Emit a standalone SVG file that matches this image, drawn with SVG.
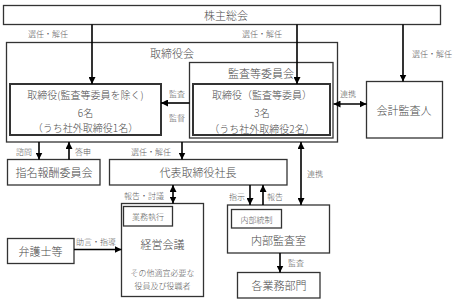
<svg xmlns="http://www.w3.org/2000/svg" width="456" height="303" viewBox="0 0 456 303">
<defs>
<style>
.box{fill:#fff;stroke:#333;stroke-width:1.3}
.thick{fill:#fff;stroke:#333;stroke-width:2}
.t{font-family:"Noto Sans CJK JP","Noto Sans CJK SC",sans-serif;font-size:11px;font-weight:300;fill:#4a4a4a;text-anchor:middle;dominant-baseline:central}
.m{font-size:10px}
.s{font-family:"Noto Sans CJK JP","Noto Sans CJK SC",sans-serif;font-size:8px;font-weight:300;fill:#5a5a5a;text-anchor:middle;dominant-baseline:central}
.c{stroke:#000;stroke-width:1.6;fill:none}
</style>
<marker id="ah" viewBox="0 0 8 8" refX="8" refY="4" markerWidth="7" markerHeight="7" markerUnits="userSpaceOnUse" orient="auto-start-reverse">
<path d="M0,0 L8,4 L0,8 z" fill="#000"/>
</marker>
</defs>
<rect width="456" height="303" fill="#fff"/>

<g id="shareholders">
<rect class="box" x="3.5" y="5.5" width="437" height="19"/>
<text class="t" x="226" y="14.5">株主総会</text>
</g>

<g id="board">
<rect class="box" x="6.5" y="42.5" width="331" height="99.5"/>
<text class="t" x="172" y="53">取締役会</text>
</g>

<g id="audit-committee">
<rect class="box" x="189.5" y="62.5" width="143.5" height="75.5"/>
<text class="t" x="261" y="73">監査等委員会</text>
</g>

<g id="directors">
<rect class="thick" x="10" y="84" width="151" height="51"/>
<text class="t m" x="85.5" y="94">取締役(監査等委員を除く)</text>
<text class="t m" x="85.5" y="112">6名</text>
<text class="t m" x="85.5" y="127.5">（うち社外取締役1名）</text>
</g>

<g id="audit-directors">
<rect class="thick" x="193" y="84" width="137" height="51"/>
<text class="t m" x="262" y="94">取締役（監査等委員）</text>
<text class="t m" x="262" y="112">3名</text>
<text class="t m" x="262" y="128">（うち社外取締役2名）</text>
</g>

<g id="accounting-auditor">
<rect class="box" x="366.5" y="81.5" width="76" height="56.5"/>
<text class="t" x="404" y="110">会計監査人</text>
</g>

<g id="nomination">
<rect class="box" x="7.5" y="159.5" width="92.5" height="25.5"/>
<text class="t" x="54" y="172">指名報酬委員会</text>
</g>

<g id="president">
<rect class="box" x="109.5" y="159.5" width="177.5" height="25.5"/>
<text class="t" x="198" y="172">代表取締役社長</text>
</g>

<g id="management-meeting">
<rect class="box" x="121.5" y="203.5" width="82" height="93"/>
<rect class="box" x="123.5" y="206.5" width="49" height="19.5"/>
<text class="s" x="148" y="216.5">業務執行</text>
<text class="t" x="162.5" y="244">経営会議</text>
<text class="s" x="162.5" y="272.5">その他適宜必要な</text>
<text class="s" x="162.5" y="285">役員及び役職者</text>
</g>

<g id="lawyers">
<rect class="box" x="7.5" y="238.5" width="66.5" height="25"/>
<text class="t" x="40.5" y="251">弁護士等</text>
</g>

<g id="internal-audit">
<rect class="box" x="227.5" y="205" width="102" height="48"/>
<rect class="box" x="231.5" y="209.5" width="50" height="18.5"/>
<text class="s" x="256.5" y="219">内部統制</text>
<text class="t" x="278.5" y="240">内部監査室</text>
</g>

<g id="departments">
<rect class="box" x="237.5" y="272.5" width="82.5" height="25.5"/>
<text class="t" x="279" y="285">各業務部門</text>
</g>

<g id="connectors">
<line class="c" x1="92" y1="24.5" x2="92" y2="84" marker-end="url(#ah)"/>
<line class="c" x1="297" y1="24.5" x2="297" y2="84" marker-end="url(#ah)"/>
<line class="c" x1="403" y1="24.5" x2="403" y2="81.5" marker-end="url(#ah)"/>
<line class="c" x1="189.5" y1="103" x2="161" y2="103" marker-end="url(#ah)"/>
<line class="c" x1="333.5" y1="104" x2="366.5" y2="104" marker-start="url(#ah)" marker-end="url(#ah)"/>
<line class="c" x1="39" y1="142" x2="39" y2="159.5" marker-end="url(#ah)"/>
<line class="c" x1="69" y1="159.5" x2="69" y2="142" marker-end="url(#ah)"/>
<line class="c" x1="182" y1="142" x2="182" y2="159.5" marker-end="url(#ah)"/>
<line class="c" x1="301" y1="142" x2="301" y2="205" marker-start="url(#ah)" marker-end="url(#ah)"/>
<line class="c" x1="173" y1="185" x2="173" y2="203.5" marker-start="url(#ah)" marker-end="url(#ah)"/>
<line class="c" x1="250" y1="185" x2="250" y2="205" marker-end="url(#ah)"/>
<line class="c" x1="263" y1="205" x2="263" y2="185" marker-end="url(#ah)"/>
<line class="c" x1="74" y1="249.5" x2="121.5" y2="249.5" marker-end="url(#ah)"/>
<line class="c" x1="280" y1="253" x2="280" y2="272.5" marker-end="url(#ah)"/>

<text class="s" x="48" y="33">選任・解任</text>
<text class="s" x="262" y="33">選任・解任</text>
<text class="s" x="432" y="53">選任・解任</text>
<text class="s" x="177" y="93">監査</text>
<text class="s" x="177" y="117">監督</text>
<text class="s" x="348" y="93">連携</text>
<text class="s" x="24" y="151">諮問</text>
<text class="s" x="83" y="151">答申</text>
<text class="s" x="151" y="151">選任・解任</text>
<text class="s" x="315" y="173">連携</text>
<text class="s" x="144" y="195">報告・討議</text>
<text class="s" x="237" y="196">指示</text>
<text class="s" x="275" y="196">報告</text>
<text class="s" x="96" y="241">助言・指導</text>
<text class="s" x="296" y="262">監査</text>
</g>
</svg>
